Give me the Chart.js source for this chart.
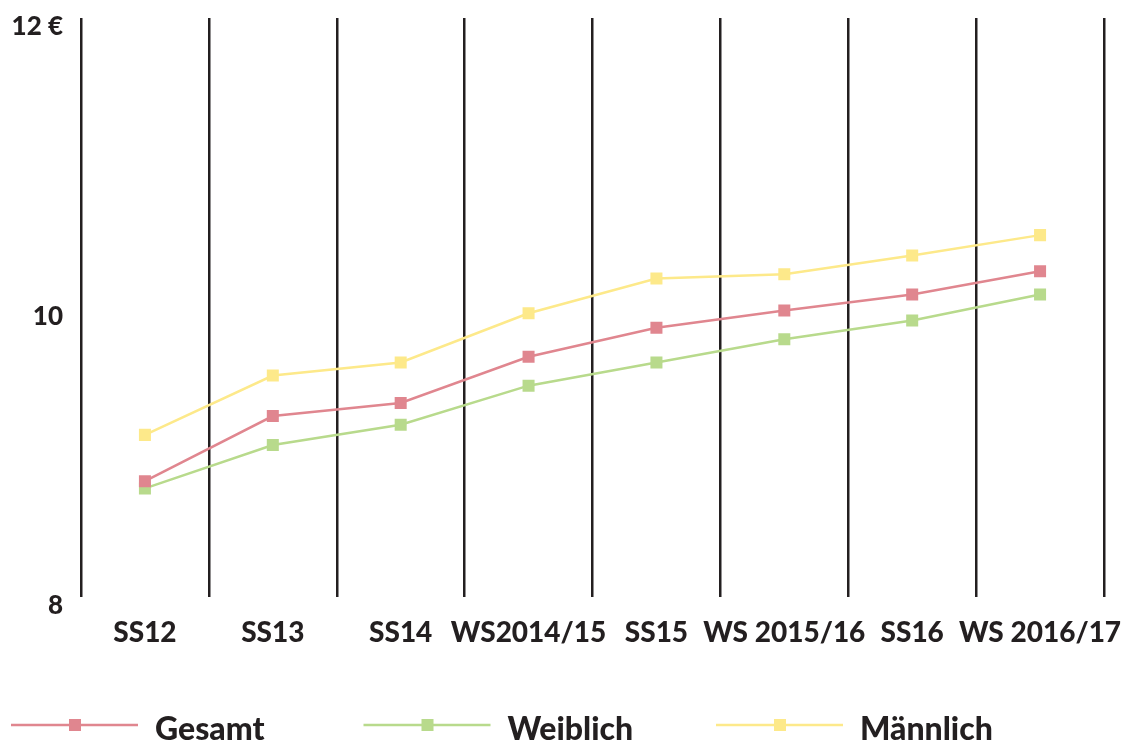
<!DOCTYPE html>
<html>
<head>
<meta charset="utf-8">
<script src="https://cdn.jsdelivr.net/npm/chart.js@4"></script>
<style>
  html, body { margin: 0; padding: 0; background: #fff; }
  #wrap { width: 1131px; height: 740px; }
</style>
</head>
<body>
<div id="wrap"><canvas id="grafico"></canvas></div>
<script>
// dados
const semestres = ['SS12', 'SS13', 'SS14', 'WS2014/15', 'SS15', 'WS 2015/16', 'SS16', 'WS 2016/17'];
const gesamt   = [8.80, 9.25, 9.34, 9.66, 9.86, 9.98, 10.09, 10.25];
const weiblich = [8.75, 9.05, 9.19, 9.46, 9.62, 9.78, 9.91, 10.09];
const maennlich = [9.12, 9.53, 9.62, 9.96, 10.20, 10.23, 10.36, 10.50];
const yTicks = [8, 10, 12];

const texto = '#231f20';
const fonte = 'Lato';

function serie(label, data, cor) {
    return {
        label: label,
        data: data,
        borderColor: cor,
        backgroundColor: cor,
        borderWidth: 2.5,
        pointStyle: 'rect',
        pointRadius: 8.5,
        pointBorderWidth: 0,
        pointBackgroundColor: cor,
        tension: 0,
        fill: false
    };
}

// legenda desenhada no canvas: linha + quadrado + texto
const legendaPlugin = {
    id: 'legendaLinha',
    afterDraw(chart) {
        const ctx = chart.ctx;
        const y = 725;
        ctx.save();
        chart.data.datasets.forEach((ds, i) => {
            const x0 = 11 + i * 352.5;
            ctx.strokeStyle = ds.borderColor;
            ctx.lineWidth = 2.5;
            ctx.beginPath();
            ctx.moveTo(x0, y);
            ctx.lineTo(x0 + 127, y);
            ctx.stroke();
            ctx.fillStyle = ds.borderColor;
            ctx.fillRect(x0 + 58, y - 6, 12, 12);
            ctx.fillStyle = texto;
            ctx.font = '900 32px ' + fonte;
            ctx.textBaseline = 'middle';
            ctx.fillText(ds.label, x0 + 144, y + 5);
        });
        ctx.restore();
    }
};

const ctx = document.getElementById('grafico');
new Chart(ctx, {
    type: 'line',
    data: {
        labels: semestres,
        datasets: [
            serie('Gesamt', gesamt, '#e0868f'),
            serie('Weiblich', weiblich, '#b8da8c'),
            serie('Männlich', maennlich, '#fde98a')
        ]
    },
    options: {
        responsive: true,
        maintainAspectRatio: false,
        animation: false,
        layout: {
            padding: { top: 18, bottom: 83, left: 0, right: 27 }
        },
        plugins: {
            legend: { display: false },
            tooltip: { enabled: false }
        },
        scales: {
            x: {
                offset: true,
                grid: {
                    display: true,
                    offset: true,
                    color: texto,
                    lineWidth: 2.5,
                    drawTicks: false
                },
                border: { display: false },
                ticks: {
                    color: texto,
                    font: { family: fonte, size: 28, weight: '900' },
                    padding: 19,
                    maxRotation: 0,
                    autoSkip: false
                },
                afterFit(scale) {
                    scale.height = 60;
                    scale.paddingLeft = 0;
                    scale.paddingRight = 0;
                }
            },
            y: {
                min: 8,
                max: 12,
                grid: { display: false, drawTicks: false },
                border: { display: false },
                afterBuildTicks(scale) {
                    scale.ticks = yTicks.map(v => ({ value: v }));
                },
                ticks: {
                    color: texto,
                    font: { family: fonte, size: 26, weight: '900' },
                    padding: 18,
                    labelOffset: 9,
                    callback: v => v === 12 ? '12 €' : String(v)
                },
                afterFit(scale) {
                    scale.width = 81;
                    scale.paddingTop = 0;
                    scale.paddingBottom = 0;
                }
            }
        }
    },
    plugins: [legendaPlugin]
});
</script>
</body>
</html>
